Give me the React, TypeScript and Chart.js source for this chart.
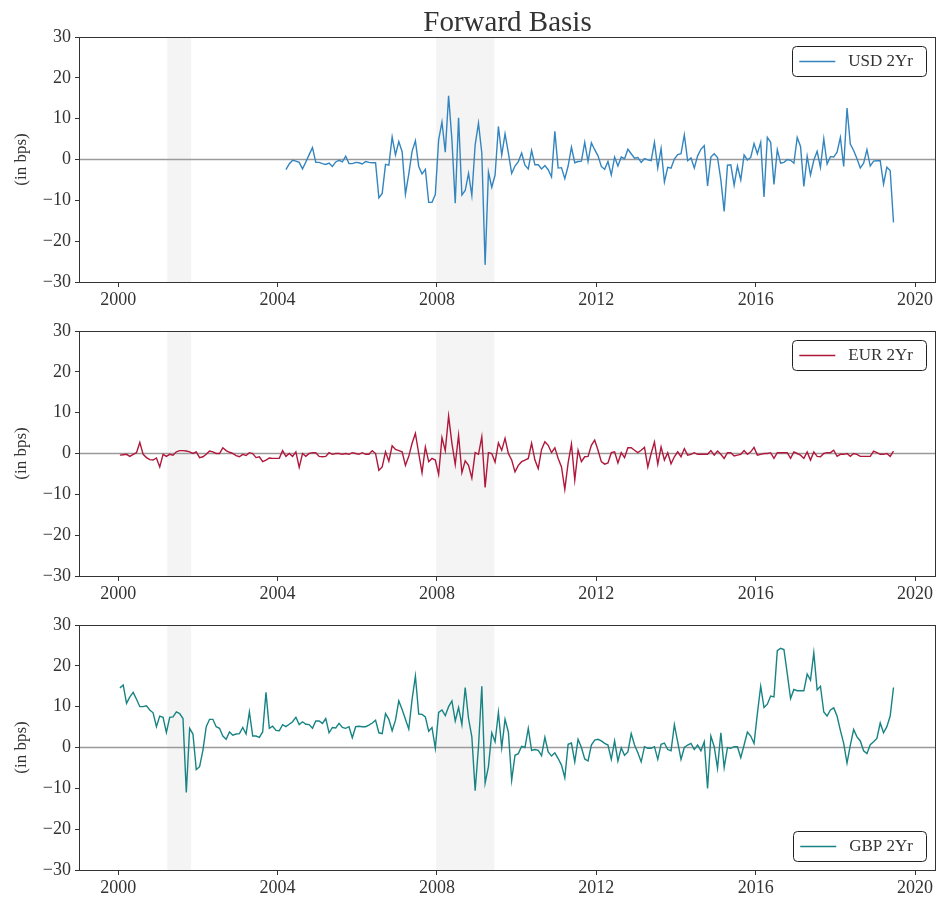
import React, { useEffect, useRef } from 'react';
import { Chart, registerables } from 'chart.js';

Chart.register(...registerables);

// Monthly 2Yr forward basis, in bps
const usdStart = { year: 2004, month: 2 }; // March 2004
const usdValues = [
  -2.5, -1.1, -0.2, -0.4, -0.7, -2.3, -0.6, 1.2, 2.9, -0.7,
  -0.7, -1.0, -1.2, -0.9, -1.7, -0.6, -0.2, -0.6, 0.8, -1.0,
  -1.0, -0.7, -0.8, -1.1, -0.5, -0.7, -0.8, -0.8, -9.4, -8.3,
  -1.2, -1.4, 5.5, 1.1, 4.4, 1.9, -8.5, -3.6, 2.0, 4.6,
  -1.7, -3.5, -2.4, -10.5, -10.5, -8.6, 4.8, 9.2, 1.8, 15.6,
  4.8, -10.7, 10.2, -8.7, -7.6, -3.4, -8.8, 3.6, 8.9, 1.6,
  -25.8, -3.1, -6.8, -3.8, 8.1, 1.1, 6.3,
  1.6, -3.4, -1.6, -0.5, 1.6, -1.4, -2.3, 2.2, -1.3, -1.3,
  -2.3, -1.5, -2.5, -4.3, 6.9, -2.1, -2.0, -4.7, -1.6, 3.0,
  -0.8, -0.5, -0.4, 4.2, -0.5, 4.1, 2.4, 0.9, -1.7, -2.4,
  -0.5, -3.8, 0.6, -1.6, 0.6, 0.2, 2.5, 1.4, 0.3, 0.5,
  -0.7, 0.2, -0.1, -0.3, 4.2, -2.1, 2.7, -5.5, -1.9, -2.1,
  0.1, 1.2, 1.4, 6.0, -0.3, 0.4, -2.1, 0.9, 2.5, 3.4,
  -6.5, 0.6, 1.4, 0.5, -5.0, -12.7, -1.4, -1.3, -6.3, -1.6,
  -5.0, 1.1, -0.1, 0.5, 3.9, 1.4, 4.2, -9.2, 5.4, 4.2,
  -6.1, 2.4, -0.9, -0.7, 0.0, -0.2, -0.9, 5.4, 3.2, -6.6,
  0.8, -3.8, -0.2, 2.0, -1.9, 5.1, -1.1, 0.7, 0.6, 1.8,
  5.4, -1.7, 12.6, 3.8, 2.2, 0.2, -2.1, -0.9, 2.4, -1.6,
  -0.4, -0.3, -0.3, -6.0, -1.9, -2.7, -15.4,
];

const eurStart = { year: 2000, month: 0 }; // January 2000
const eurValues = [
  -0.4, -0.3, -0.2, -0.7, -0.2, 0.2, 2.7, -0.2, -1.0, -1.5,
  -1.6, -1.1, -3.3, -0.2, -0.7, -0.2, -0.4, 0.4, 0.7, 0.7,
  0.6, 0.4, 0.0, 0.4, -1.0, -0.8, -0.2, 0.6, 0.4, 0.0,
  0.0, 1.4, 0.7, 0.3, 0.0, -0.5, -0.8, -0.2, -0.5, 0.2,
  0.0, -1.0, -0.8, -2.0, -1.6, -1.1, -1.2, -1.2, -1.2, 0.7,
  -0.7, 0.0, -0.7, 0.4, -3.4, 0.0, -0.7, 0.0, 0.2, 0.2,
  -0.7, -0.8, -0.7, 0.2, -0.2, 0.0, 0.0, -0.2, 0.0, -0.2,
  0.2, 0.0, -0.2, 0.2, -0.2, -0.2, 0.7, 0.0, -4.1,
  -3.3, 0.4, -1.9, 1.9, 1.0, 0.7, 0.4, -2.9, -0.7, 2.5,
  4.9, 0.0, -4.7, 1.6, -2.0, -1.2, -1.6, -5.1, 3.9, 0.7,
  9.2, 2.5, -2.7, 4.5, -4.7, -1.8, -2.9, -6.0, 0.2, -0.2,
  4.1, -8.3, 0.2, 0.0, -2.1, 2.6, 0.8, 3.7, 0.0, -1.6,
  -4.5, -2.9, -2.0, -1.6, -1.2, 2.5, -1.6, -3.7, 1.0, 2.9,
  2.0, 0.2, 1.4, -1.2, -3.3, -8.8, -2.3, 2.3, -6.5, 0.8,
  -2.0, -0.8, -0.7, 2.0, 3.3, 0.8, -2.0, -2.6, -2.3, 0.2,
  0.4, -2.3, 0.2, -1.0, 1.4, 1.4, 0.8, 0.2, 0.8, 1.5,
  -3.3, 0.0, 2.8, -2.6, 1.6, -1.6, 0.2,
  -2.5, -0.8, 0.4, -0.8, 1.2, -0.4, -0.2, 0.2, -0.2, -0.2,
  -0.2, -0.2, 0.7, -0.4, 0.6, -0.2, -1.2, 0.2, 0.2, -0.6,
  -0.4, -0.2, 0.7, -0.2, 0.4, 1.5, -0.4, -0.2, 0.0, 0.0,
  0.2, -1.2, 0.2, 0.2, 0.2, 0.2, -1.2, 0.4, 0.0, -0.4,
  -1.2, 0.4, -1.6, 0.4, -0.7, -0.8, 0.0, 0.2, 0.2, 0.8,
  -0.7, -0.2, -0.2, 0.0, -0.7, 0.0, -0.2, -0.7, -0.7, -0.7,
  -0.7, 0.6, 0.2, -0.2, -0.2, 0.0, -0.7, 0.6,
];

const gbpStart = { year: 2000, month: 0 }; // January 2000
const gbpValues = [
  14.6, 15.3, 10.8, 12.4, 13.5, 11.8, 10.0, 10.0, 10.2, 9.2,
  8.5, 5.1, 7.7, 7.4, 3.7, 7.4, 7.5, 8.7, 8.3, 7.1,
  -11.0, 4.7, 3.3, -5.4, -4.7, -0.7, 5.1, 6.9, 6.9, 5.1,
  4.7, 2.8, 2.0, 3.8, 3.0, 3.3, 3.4, 4.9, 3.3, 8.7,
  2.8, 2.8, 2.5, 3.8, 13.5, 4.7, 5.2, 4.2, 4.1, 5.6,
  5.1, 5.7, 6.3, 7.4, 5.6, 6.3, 5.7, 5.6, 4.7, 6.5,
  6.5, 5.9, 7.1, 3.6, 4.9, 4.8, 5.9, 4.9, 4.7, 5.1,
  2.4, 5.1, 5.2, 5.1, 5.1, 5.5, 6.0, 6.7, 3.6,
  3.4, 8.3, 6.9, 4.1, 6.7, 11.4, 9.3, 6.9, 4.5, 11.8,
  17.5, 8.2, 8.1, 7.5, 4.0, 4.9, -0.2, 8.6, 9.2, 7.8,
  10.0, 11.4, 6.5, 9.8, 5.6, 14.7, 7.1, 2.6, -10.6, 0.2,
  15.0, -8.7, -4.7, 3.6, 1.4, 8.6, 0.0, 6.9, 3.8, -8.0,
  -1.9, -1.5, 0.3, 0.0, 4.7, -0.7, -0.5, -0.7, -2.0, 2.5,
  -1.1, -2.1, -1.3, -2.7, -4.3, -7.4, 0.8, 1.1, -3.5, 2.0,
  0.0, -2.8, -3.3, 0.6, 1.8, 2.0, 1.6, 1.0, 0.6, -2.9,
  1.6, -3.3, -0.1, -1.9, -1.1, 3.4, 0.6, -1.3, -3.5, 0.2,
  -0.2, -0.2, 0.2, -2.9, 0.8, 1.1, -0.5,
  -0.8, 5.6, 1.4, -2.9, 0.0, 0.6, 1.0, -0.5, 0.6, -0.8,
  1.4, -10.0, 2.8, 0.2, -5.1, 3.6, -4.9, 0.0, -0.2, 0.2,
  0.2, -2.5, 0.6, 3.8, 2.8, 1.0, 8.3, 15.0, 9.8, 10.6,
  12.6, 12.4, 23.7, 24.3, 24.0, 18.1, 12.0, 14.2, 13.9, 13.9,
  13.9, 18.0, 16.5, 23.2, 14.1, 15.0, 8.7, 7.7, 9.2, 9.7,
  7.7, 4.2, 1.0, -3.8, 0.6, 4.4, 2.6, 1.6, -0.8, -1.5,
  0.7, 1.4, 2.2, 6.0, 3.6, 5.1, 7.7, 14.7,
];

// Recession periods (decimal years), shaded in every panel
const recessionStarts = [2001.23, 2007.98];
const recessionEnds = [2001.83, 2009.44];

const xTickYears = [2000, 2004, 2008, 2012, 2016, 2020];
const yTickValues = [-30, -20, -10, 0, 10, 20, 30];

const chartTitle = 'Forward Basis';
const yAxisTitle = '(in bps)';

const SERIF = "'Liberation Serif', 'DejaVu Serif', serif";
const TEXT = '#333333';

type Panel = {
  label: string;
  color: string;
  start: { year: number; month: number };
  values: number[];
  legendAt: 'top' | 'bottom';
  title?: string;
};

const panels: Panel[] = [
  { label: 'USD 2Yr', color: '#3385bf', start: usdStart, values: usdValues, legendAt: 'top', title: chartTitle },
  { label: 'EUR 2Yr', color: '#b0173b', start: eurStart, values: eurValues, legendAt: 'top' },
  { label: 'GBP 2Yr', color: '#178383', start: gbpStart, values: gbpValues, legendAt: 'bottom' },
];

const CANVAS_W = 939;
const CANVAS_H = 311;
const PANEL_TOPS = [0, 294, 588];

// mid-month position of the i-th observation, in decimal years
const monthToYear = (start: { year: number; month: number }, i: number) =>
  start.year + (start.month + i + 0.5) / 12;

const decorPlugin = {
  id: 'decor',
  beforeDatasetsDraw(chart: any, _args: any, opts: any) {
    const { ctx, chartArea, scales } = chart;
    const x = scales.x;
    const y = scales.y;
    ctx.save();
    ctx.beginPath();
    ctx.rect(chartArea.left, chartArea.top, chartArea.right - chartArea.left, chartArea.bottom - chartArea.top);
    ctx.clip();
    ctx.fillStyle = '#f4f4f4';
    recessionStarts.forEach((s, i) => {
      const x0 = x.getPixelForValue(s);
      const x1 = x.getPixelForValue(recessionEnds[i]);
      ctx.fillRect(x0, chartArea.top, x1 - x0, chartArea.bottom - chartArea.top);
    });
    const y0 = y.getPixelForValue(0);
    ctx.strokeStyle = '#9a9a9a';
    ctx.lineWidth = 1.5;
    ctx.beginPath();
    ctx.moveTo(chartArea.left, y0);
    ctx.lineTo(chartArea.right, y0);
    ctx.stroke();
    ctx.restore();
  },
  afterDraw(chart: any, _args: any, opts: any) {
    const { ctx, chartArea } = chart;
    ctx.save();
    // frame
    ctx.strokeStyle = '#333333';
    ctx.lineWidth = 1;
    ctx.strokeRect(
      Math.round(chartArea.left) - 0.5,
      Math.round(chartArea.top) + 0.5,
      Math.round(chartArea.right - chartArea.left) + 1,
      Math.round(chartArea.bottom - chartArea.top)
    );

    // legend
    ctx.font = `17px ${SERIF}`;
    const textW = ctx.measureText(opts.label).width;
    const boxW = 56 + textW + 13;
    const boxH = 30;
    const bx = chartArea.right - 9 - boxW;
    const by = opts.legendAt === 'top' ? chartArea.top + 9 : chartArea.bottom - 9 - boxH;
    ctx.fillStyle = 'rgba(255,255,255,0.85)';
    ctx.strokeStyle = '#222222';
    ctx.lineWidth = 1;
    ctx.beginPath();
    ctx.roundRect(Math.round(bx) + 0.5, Math.round(by) + 0.5, Math.round(boxW), boxH, 4);
    ctx.fill();
    ctx.stroke();
    ctx.strokeStyle = opts.color;
    ctx.lineWidth = 1.5;
    ctx.beginPath();
    ctx.moveTo(bx + 7, by + boxH / 2 + 0.5);
    ctx.lineTo(bx + 43, by + boxH / 2 + 0.5);
    ctx.stroke();
    ctx.fillStyle = TEXT;
    ctx.textBaseline = 'middle';
    ctx.textAlign = 'left';
    ctx.fillText(opts.label, bx + 56, by + boxH / 2 + 1);

    // figure title
    if (opts.title) {
      ctx.font = `29px ${SERIF}`;
      ctx.textAlign = 'center';
      ctx.textBaseline = 'alphabetic';
      ctx.fillStyle = TEXT;
      ctx.fillText(opts.title, (chartArea.left + chartArea.right) / 2, 31);
    }
    ctx.restore();
  },
};

function PanelChart({ panel, top }: { panel: Panel; top: number }) {
  const ref = useRef<HTMLCanvasElement | null>(null);

  useEffect(() => {
    if (!ref.current) return;
    const points = panel.values.map((v, i) => ({ x: monthToYear(panel.start, i), y: v }));
    const chart = new Chart(ref.current, {
      type: 'line',
      data: {
        datasets: [
          {
            label: panel.label,
            data: points,
            borderColor: panel.color,
            borderWidth: 1.4,
            pointRadius: 0,
            tension: 0,
            fill: false,
          },
        ],
      },
      plugins: [decorPlugin],
      options: {
        animation: false,
        responsive: false,
        events: [],
        layout: { padding: { top: 37, left: 0, right: 4, bottom: 0 } },
        plugins: {
          legend: { display: false },
          tooltip: { enabled: false },
          decor: { label: panel.label, color: panel.color, legendAt: panel.legendAt, title: panel.title },
        } as any,
        scales: {
          x: {
            type: 'linear',
            min: 1999.04,
            max: 2020.5,
            afterFit: (s: any) => {
              s.height = 29;
            },
            afterBuildTicks: (s: any) => {
              s.ticks = xTickYears.map((v) => ({ value: v }));
            },
            ticks: {
              color: TEXT,
              font: { family: SERIF, size: 18 },
              padding: 2,
              maxRotation: 0,
              autoSkip: false,
              callback: (v: any) => String(v),
            },
            grid: { drawOnChartArea: false, drawTicks: true, tickLength: 5, color: '#333333' },
            border: { display: false },
          },
          y: {
            type: 'linear',
            min: -30,
            max: 30,
            afterFit: (s: any) => {
              s.width = 80;
            },
            afterBuildTicks: (s: any) => {
              s.ticks = yTickValues.map((v) => ({ value: v }));
            },
            ticks: {
              color: TEXT,
              font: { family: SERIF, size: 18 },
              padding: 4,
              callback: (v: any) => (v < 0 ? '\u2212' + Math.abs(v) : String(v)),
            },
            title: {
              display: true,
              text: yAxisTitle,
              color: TEXT,
              font: { family: SERIF, size: 17 },
              padding: { top: 11, bottom: 0 },
            },
            grid: { drawOnChartArea: false, drawTicks: true, tickLength: 5, color: '#333333' },
            border: { display: false },
          },
        },
      } as any,
    });
    return () => chart.destroy();
  }, [panel]);

  return (
    <canvas
      ref={ref}
      width={CANVAS_W}
      height={CANVAS_H}
      style={{ position: 'absolute', left: 0, top, width: CANVAS_W, height: CANVAS_H }}
    />
  );
}

export default function App() {
  return (
    <div
      style={{
        position: 'absolute',
        left: 0,
        top: 0,
        width: CANVAS_W,
        height: 899,
        overflow: 'hidden',
        background: '#ffffff',
      }}
    >
      {panels.map((p, i) => (
        <PanelChart key={p.label} panel={p} top={PANEL_TOPS[i]} />
      ))}
    </div>
  );
}
